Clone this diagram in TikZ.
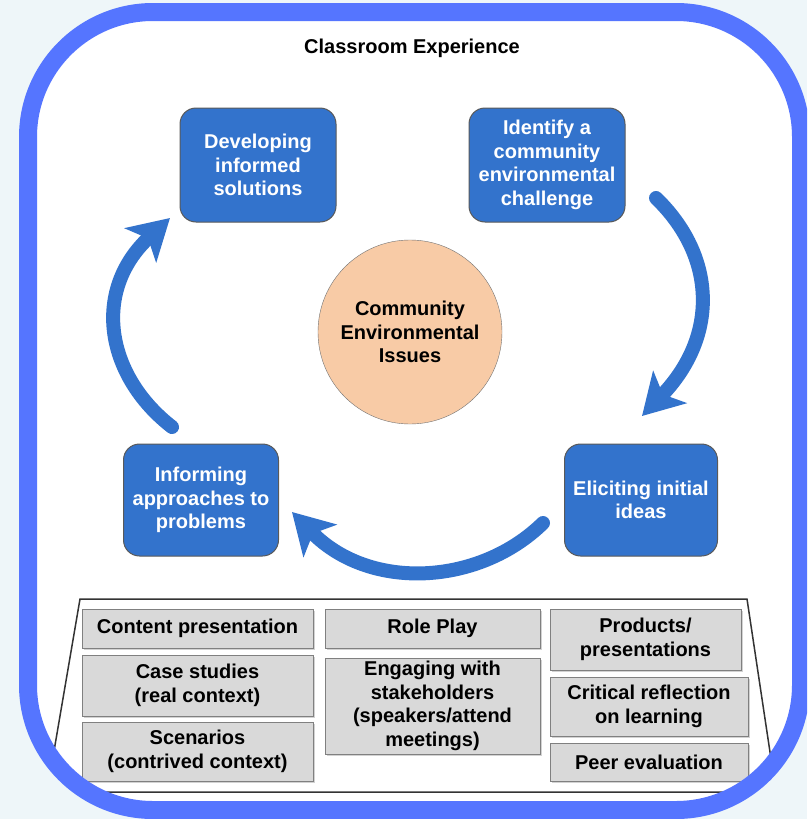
\documentclass[tikz,border=0pt]{standalone}
\usepackage{fontspec}
\setmainfont{Liberation Sans}
\usetikzlibrary{arrows.meta,shadows}
\definecolor{pagebg}{HTML}{EEF6F9}
\definecolor{framebl}{HTML}{5575FF}
\definecolor{stagebl}{HTML}{3373CC}
\definecolor{issuepk}{HTML}{F8CBA6}
\definecolor{actgray}{HTML}{D9D9D9}
\begin{document}
\begin{tikzpicture}[x=1pt,y=-1pt,
  every node/.style={font=\fontsize{20}{23.5}\selectfont\bfseries,align=center},
  stage/.style={rounded corners=16pt,fill=stagebl,draw=black!65,line width=1pt,text=white,
    minimum width=156pt,minimum height=114pt,inner sep=0pt},
  activity/.style={fill=actgray,draw=black!50,line width=1pt,inner sep=0pt,
    drop shadow={shadow xshift=1.5pt,shadow yshift=-1.5pt,opacity=.35}},
  looparrow/.style={line width=14pt,stagebl,line cap=round,-{Stealth[length=40pt,width=46pt,inset=10pt]}}]
\useasboundingbox (0,0) rectangle (807,819);
\fill[pagebg] (0,0) rectangle (807,819);
\clip (0,0) rectangle (807,819);
\fill[white,rounded corners=125pt] (28,12) rectangle (801,810);

\node (title) at (412,48) {Classroom Experience};

\node[stage] (solutions) at (258,165) {Developing\\informed\\solutions};
\node[stage] (challenge) at (547,165) {Identify a\\community\\environmental\\challenge};
\node[stage,minimum width=153pt,minimum height=112pt] (ideas) at (641,500) {Eliciting initial\\ideas};
\node[stage,minimum width=155pt,minimum height=112pt] (approaches) at (201,500) {Informing\\approaches to\\problems};
\node[circle,fill=issuepk,draw=black!55,minimum size=184pt,inner sep=0pt] (issues) at (410,332) {Community\\Environmental\\Issues};

\coordinate (a1) at (656,198); \coordinate (b1) at (642,416);
\coordinate (a2) at (543,523); \coordinate (b2) at (292,512);
\coordinate (a3) at (172,427); \coordinate (b3) at (170,218);
\draw[looparrow] (a1) .. controls (715,255) and (720,335) .. (b1);
\draw[looparrow] (a2) .. controls (480,585) and (370,592) .. (b2);
\draw[looparrow] (a3) .. controls (105,375) and (92,290) .. (b3);

\begin{scope}
\clip[rounded corners=125pt] (28,12) rectangle (801,810);
\draw[black!80,line width=1.5pt] (80,599)--(747,599)--(776,792)--(47,792)--cycle;
\end{scope}
\node[activity,minimum width=231pt,minimum height=39pt] (content) at (197.5,628.5) {Content presentation};
\node[activity,minimum width=231pt,minimum height=61pt] (cases) at (197.5,685.5) {Case studies\\(real context)};
\node[activity,minimum width=231pt,minimum height=59pt] (scenarios) at (197.5,751.5) {Scenarios\\(contrived context)};
\node[activity,minimum width=215pt,minimum height=39pt] (roleplay) at (432.5,628.5) {Role Play};
\node[activity,minimum width=215pt,minimum height=96pt] (stakeholders) at (432.5,706) {Engaging with\\stakeholders\\(speakers/attend\\meetings)};
\node[activity,minimum width=191pt,minimum height=61pt] (products) at (645.5,639.5) {Products/\\presentations};
\node[activity,minimum width=198pt,minimum height=59pt] (reflection) at (649,706.5) {Critical reflection\\on learning};
\node[activity,minimum width=198pt,minimum height=38pt] (peer) at (649,762) {Peer evaluation};

\draw[framebl,line width=18pt,rounded corners=125pt] (28,12) rectangle (801,810);
\end{tikzpicture}
\end{document}
